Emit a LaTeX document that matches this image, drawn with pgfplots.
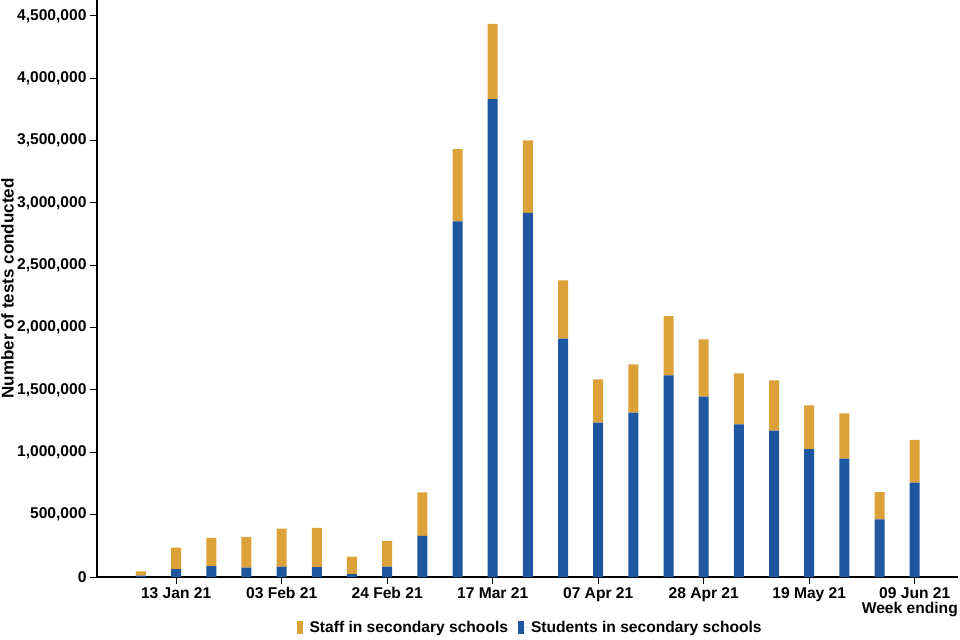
\documentclass[border=0pt]{standalone}
\usepackage{fontspec}
\setmainfont{Liberation Sans}
\usepackage{pgfplots}
\usepackage{pgfplotstable}
\pgfplotsset{compat=1.18}

\definecolor{staff}{RGB}{221,161,57}
\definecolor{pupil}{RGB}{31,86,160}

% weekly LFD tests in secondary schools, week ending 06 Jan 21 ... 09 Jun 21
\pgfplotstableread{
week students staff
0   11000   34000
1   64000  171000
2   88000  225000
3   75000  246000
4   83000  304000
5   80000  313000
6   24000  139000
7   83000  206000
8  329000  350000
9  2852000 580000
10 3833000 602000
11 2919000 583000
12 1911000 467000
13 1237000 348000
14 1318000 388000
15 1617000 474000
16 1446000 460000
17 1224000 409000
18 1173000 404000
19 1026000 351000
20  949000 364000
21  463000 218000
22  756000 343000
}\tests

\newcommand{\lbl}{\fontsize{15.6bp}{18bp}\selectfont\bfseries}

\begin{document}
\begin{tikzpicture}
\useasboundingbox (-97bp,-63bp) rectangle (863bp,577bp);
\begin{axis}[at={(0,0)}, anchor=south west,
             scale only axis,
             width=861bp, height=577bp,
             xmin=-1.25, xmax=23.23,
             ymin=0, ymax=4627000,
             axis lines*=left,
             axis line style={line width=1.2bp, black},
             ybar stacked,
             bar width=10bp,
             xtick={1,4,7,10,13,16,19,22},
             xticklabels={13 Jan 21, 03 Feb 21, 24 Feb 21, 17 Mar 21,
                          07 Apr 21, 28 Apr 21, 19 May 21, 09 Jun 21},
             ytick={0,500000,...,4500000},
             scaled y ticks=false,
             yticklabel style={/pgf/number format/.cd, fixed, 1000 sep={,},
                               assume math mode=true},
             tick align=outside,
             major tick length=7bp,
             tick style={line width=1bp, black},
             tick label style={font=\lbl},
             ylabel={Number of tests conducted},
             ylabel style={font=\fontsize{17bp}{20bp}\selectfont\bfseries,
                           at={(axis description cs:-0.104,0.5)}, anchor=center},
             xlabel={Week ending},
             xlabel style={font=\lbl, at={(axis description cs:1,-0.0624)},
                           anchor=base east, inner sep=0pt},
             reverse legend,
             legend columns=2,
             legend style={at={(axis description cs:0.503,-0.088)}, anchor=center,
                           draw=none, font=\lbl,
                           /tikz/every even column/.append style={column sep=8bp}},
            ]
  \addplot[fill=pupil, draw=none,
           legend image code/.code={\fill[pupil] (0bp,-6bp) rectangle (6bp,7bp);
                                    \path (0bp,0bp) -- (11bp,0bp);}]
    table[x=week, y=students] {\tests};
  \addlegendentry{Students in secondary schools}
  \addplot[fill=staff, draw=none,
           legend image code/.code={\fill[staff] (0bp,-6bp) rectangle (6bp,7bp);
                                    \path (0bp,0bp) -- (11bp,0bp);}]
    table[x=week, y=staff] {\tests};
  \addlegendentry{Staff in secondary schools}
\end{axis}
\end{tikzpicture}
\end{document}
